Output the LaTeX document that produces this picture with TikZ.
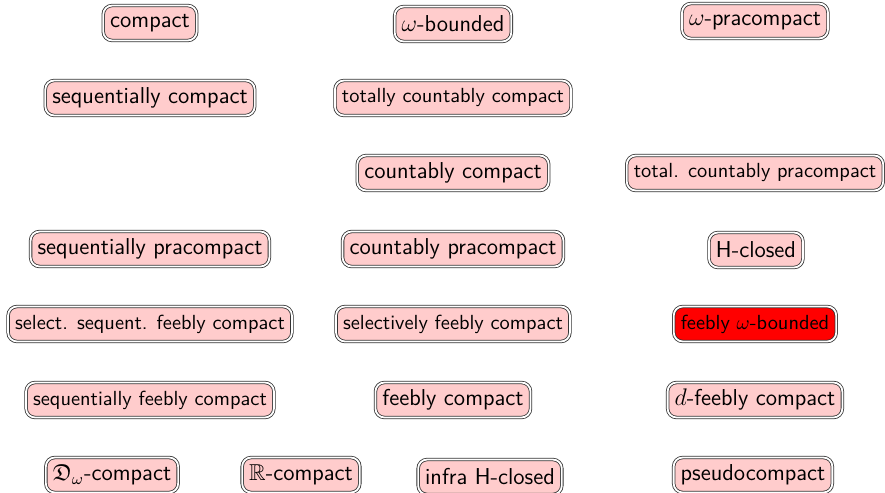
\documentclass[tikz,border=0pt]{standalone}
\usepackage{amssymb}
\begin{document}
\begin{tikzpicture}[x=0.5pt,y=-0.5pt,
  prop/.style={draw=black!80, double=white, double distance=0.9pt, line width=0.4pt,
    rounded corners=4.5pt, fill=red!20, inner xsep=3.5pt, inner ysep=3pt, minimum height=17.5pt,
    font=\sffamily\fontsize{11.5}{13}\selectfont},
  propsm/.style={prop, font=\sffamily\fontsize{10.2}{12}\selectfont},
  hot/.style={fill=red}]
\useasboundingbox (0,0) rectangle (885,493);
\node[prop] (compact) at (150,23) {compact};
\node[prop] (wbounded) at (453,24) {$\omega$-bounded};
\node[prop] (wpra) at (755,21) {$\omega$-pracompact};
\node[prop] (seqc) at (150,98) {sequentially compact};
\node[propsm] (totcc) at (453,98) {totally countably compact};
\node[prop] (cc) at (453,173) {countably compact};
\node[propsm] (totcp) at (755,173) {total. countably pracompact};
\node[prop] (seqp) at (150,249) {sequentially pracompact};
\node[prop] (cp) at (453,249) {countably pracompact};
\node[prop] (hcl) at (756,250) {H-closed};
\node[propsm] (ssfc) at (150,324) {select. sequent. feebly compact};
\node[propsm] (sfc) at (453,324) {selectively feebly compact};
\node[propsm,hot] (fwb) at (755,324) {feebly $\omega$-bounded};
\node[propsm] (seqfc) at (150,400) {sequentially feebly compact};
\node[prop] (fc) at (453,400) {feebly compact};
\node[prop] (dfc) at (755,400) {$d$-feebly compact};
\node[prop] (dwc) at (112,475) {$\mathfrak{D}_\omega$-compact};
\node[prop] (rc) at (301,475) {$\mathbb{R}$-compact};
\node[prop] (ihc) at (490,477) {infra H-closed};
\node[prop] (pc) at (753,475) {pseudocompact};
\end{tikzpicture}
\end{document}
